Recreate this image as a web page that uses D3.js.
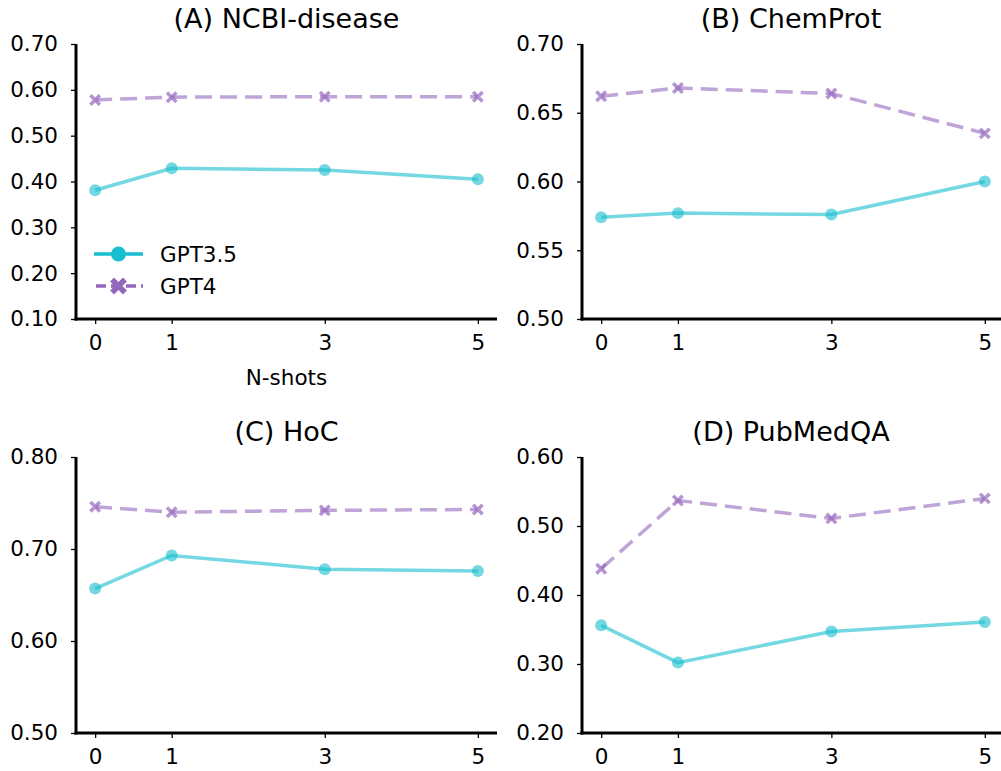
<!DOCTYPE html>
<html>
<head>
<meta charset="utf-8">
<script src="https://cdn.jsdelivr.net/npm/d3@7"></script>
<style>
  body { margin: 0; background: #fff; }
  text { font-family: "DejaVu Sans", sans-serif; fill: #000; }
</style>
</head>
<body>
<div id="chart"></div>
<script>
// shots on the x axis
const shots = [0, 1, 3, 5];
const panelTitles = ["(A) NCBI-disease", "(B) ChemProt", "(C) HoC", "(D) PubMedQA"];

// values, one array per panel
const gpt35 = {
    ncbi: [0.381, 0.429, 0.425, 0.405],
    chemprot: [0.574, 0.577, 0.576, 0.600],
    hoc: [0.657, 0.693, 0.678, 0.676],
    pubmedqa: [0.356, 0.302, 0.347, 0.361]
};
const gpt4 = {
    ncbi: [0.578, 0.584, 0.585, 0.585],
    chemprot: [0.662, 0.668, 0.664, 0.635],
    hoc: [0.746, 0.740, 0.742, 0.743],
    pubmedqa: [0.438, 0.537, 0.511, 0.540]
};
const panelKeys = ["ncbi", "chemprot", "hoc", "pubmedqa"];
const yTicks = {
    ncbi: [0.1, 0.2, 0.3, 0.4, 0.5, 0.6, 0.7],
    chemprot: [0.50, 0.55, 0.60, 0.65, 0.70],
    hoc: [0.5, 0.6, 0.7, 0.8],
    pubmedqa: [0.2, 0.3, 0.4, 0.5, 0.6]
};

const W = 1001, H = 771;
const boxes = [
    {left: 76, right: 497, top: 44, bottom: 319},
    {left: 582, right: 1004, top: 44, bottom: 319},
    {left: 76, right: 497, top: 457, bottom: 733},
    {left: 582, right: 1004, top: 457, bottom: 733}
];
const colors = {gpt35: "#17becf", gpt4: "#9467bd"};

const svg = d3.select("#chart").append("svg")
    .attr("width", W)
    .attr("height", H);

panelKeys.forEach(function(key, i) {
    let b = boxes[i];
    let ticks = yTicks[key];
    let x = d3.scaleLinear().domain([-0.25, 5.25]).range([b.left, b.right]);
    let y = d3.scaleLinear().domain([ticks[0], ticks[ticks.length - 1]]).range([b.bottom, b.top]);
    let g = svg.append("g");

    // axes
    let xAxis = g.append("g")
        .attr("transform", "translate(0," + b.bottom + ")")
        .call(d3.axisBottom(x).tickValues(shots).tickFormat(d3.format("d")).tickSize(5).tickPadding(11));
    let yAxis = g.append("g")
        .attr("transform", "translate(" + b.left + ",0)")
        .call(d3.axisLeft(y).tickValues(ticks).tickFormat(d3.format(".2f")).tickSize(5).tickPadding(13));
    [xAxis, yAxis].forEach(function(a) {
        a.select(".domain").attr("stroke-width", 3).attr("stroke", "#000");
        a.selectAll(".tick line").attr("stroke-width", 1.3).attr("stroke", "#000");
        a.selectAll(".tick text").style("font-size", "21.5px").attr("fill", "#000");
    });
    // extend spines so they meet at the corner like matplotlib
    xAxis.select(".domain").attr("d", "M" + (b.left - 1.5) + ",0H" + b.right);
    yAxis.select(".domain").attr("d", "M0," + b.top + "V" + (b.bottom + 1.5));

    g.append("text")
        .attr("x", (b.left + b.right) / 2 - (i % 2 == 1 ? 2 : 0))
        .attr("y", b.top - 16)
        .attr("text-anchor", "middle")
        .style("font-size", "27px")
        .text(panelTitles[i]);

    let line = d3.line()
        .x((d, j) => x(shots[j]))
        .y(d => y(d));

    // GPT3.5
    g.append("path")
        .datum(gpt35[key])
        .attr("d", line)
        .attr("fill", "none")
        .attr("stroke", colors.gpt35)
        .attr("stroke-opacity", 0.6)
        .attr("stroke-width", 3.5);
    g.selectAll(".dot35")
      .data(gpt35[key])
      .join("circle")
        .attr("class", "dot35")
        .attr("cx", (d, j) => x(shots[j]))
        .attr("cy", d => y(d))
        .attr("r", 6)
        .attr("fill", colors.gpt35)
        .attr("fill-opacity", 0.6);

    // GPT4
    g.append("path")
        .datum(gpt4[key])
        .attr("d", line)
        .attr("fill", "none")
        .attr("stroke", colors.gpt4)
        .attr("stroke-opacity", 0.6)
        .attr("stroke-width", 3.5)
        .attr("stroke-dasharray", "17,8");
    g.selectAll(".dot4")
      .data(gpt4[key])
      .join("path")
        .attr("class", "dot4")
        .attr("d", d3.symbol().type(d3.symbolX).size(60))
        .attr("transform", (d, j) => "translate(" + x(shots[j]) + "," + y(d) + ")")
        .attr("stroke", colors.gpt4)
        .attr("stroke-opacity", 0.7)
        .attr("stroke-width", 3.5)
        .attr("fill", "none");

    if (i == 0) {
        g.append("text")
            .attr("x", (b.left + b.right) / 2)
            .attr("y", b.bottom + 66)
            .attr("text-anchor", "middle")
            .style("font-size", "21.5px")
            .text("N-shots");

        // legend
        let leg = g.append("g");
        leg.append("line")
            .attr("x1", 94).attr("x2", 143).attr("y1", 254).attr("y2", 254)
            .attr("stroke", colors.gpt35).attr("stroke-width", 3.5);
        leg.append("circle")
            .attr("cx", 118.5).attr("cy", 254).attr("r", 7.5)
            .attr("fill", colors.gpt35);
        leg.append("text")
            .attr("x", 160).attr("y", 261.5)
            .style("font-size", "21.5px")
            .text("GPT3.5");
        leg.append("line")
            .attr("x1", 96).attr("x2", 143).attr("y1", 286).attr("y2", 286)
            .attr("stroke", colors.gpt4).attr("stroke-width", 3.5)
            .attr("stroke-dasharray", "10,5");
        leg.append("path")
            .attr("d", d3.symbol().type(d3.symbolX).size(110))
            .attr("transform", "translate(118.5,286)")
            .attr("stroke", colors.gpt4).attr("stroke-width", 5.5)
            .attr("fill", "none");
        leg.append("text")
            .attr("x", 160).attr("y", 293.5)
            .style("font-size", "21.5px")
            .text("GPT4");
    }
});
</script>
</body>
</html>
